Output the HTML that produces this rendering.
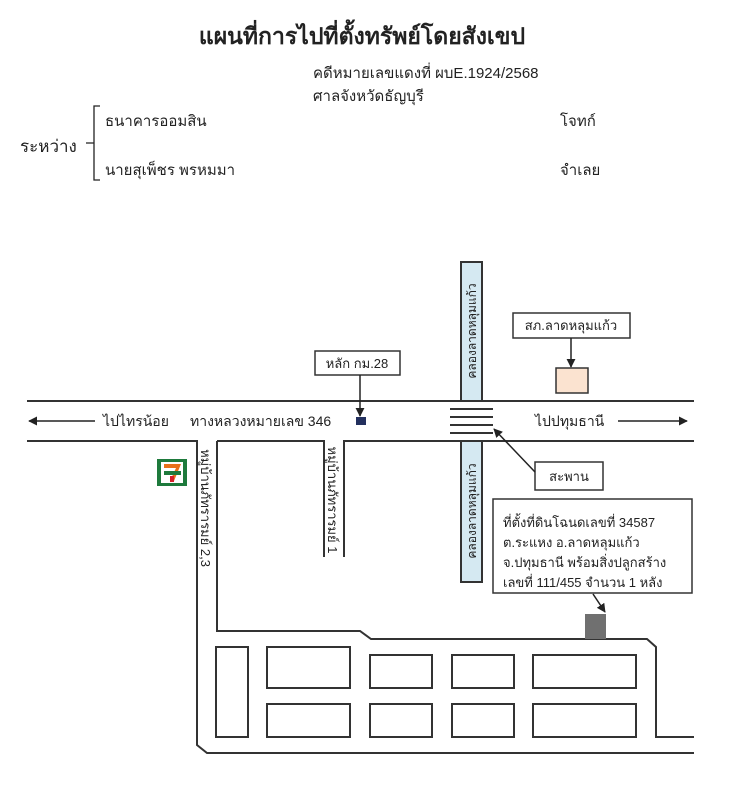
<!DOCTYPE html>
<html><head><meta charset="utf-8"><style>
body{margin:0;background:#fff}
svg{display:block}
text{font-family:"Liberation Sans","Noto Sans CJK SC","WenQuanYi Zen Hei",sans-serif;fill:#222}
</style></head><body>
<svg width="756" height="800" viewBox="0 0 756 800" xmlns="http://www.w3.org/2000/svg">
<defs><marker id="a" viewBox="0 0 10 10" refX="9" refY="5" markerWidth="6" markerHeight="6" orient="auto"><path d="M0,0L10,5L0,10z" fill="#222"/></marker></defs>
<text x="362" y="44" font-size="23" font-weight="bold" text-anchor="middle">แผนที่การไปที่ตั้งทรัพย์โดยสังเขป</text>
<text x="313" y="78" font-size="15">คดีหมายเลขแดงที่ ผบE.1924/2568</text>
<text x="313" y="101" font-size="15">ศาลจังหวัดธัญบุรี</text>
<text x="105" y="126" font-size="15">ธนาคารออมสิน</text>
<text x="560" y="126" font-size="15">โจทก์</text>
<text x="20" y="152" font-size="17">ระหว่าง</text>
<text x="105" y="175" font-size="15">นายสุเพ็ชร พรหมมา</text>
<text x="560" y="175" font-size="15">จำเลย</text>
<path d="M100,106H94V180H100M94,143H86" fill="none" stroke="#222" stroke-width="1.3"/>
<g stroke="#333" stroke-width="2" fill="none">
<path d="M27,401H694"/>
<path d="M27,441H197V745L207,753H694"/>
<path d="M217,441H324V557"/>
<path d="M344,557V441H460"/>
<path d="M482,441H694"/>
<path d="M217,441V631H360L371,639H647L656,647V737H694"/>
<rect x="216" y="647" width="32" height="90"/>
<rect x="267" y="647" width="83" height="41"/>
<rect x="267" y="704" width="83" height="33"/>
<rect x="370" y="655" width="62" height="33"/>
<rect x="370" y="704" width="62" height="33"/>
<rect x="452" y="655" width="62" height="33"/>
<rect x="452" y="704" width="62" height="33"/>
<rect x="533" y="655" width="103" height="33"/>
<rect x="533" y="704" width="103" height="33"/>
</g>
<rect x="461" y="262" width="21" height="139" fill="#d5e9f2" stroke="#333" stroke-width="2"/>
<rect x="461" y="441" width="21" height="141" fill="#d5e9f2" stroke="#333" stroke-width="2"/>
<text transform="translate(476,331) rotate(-90)" font-size="12" text-anchor="middle">คลองลาดหลุมแก้ว</text>
<text transform="translate(476,511) rotate(-90)" font-size="12" text-anchor="middle">คลองลาดหลุมแก้ว</text>
<g stroke="#333" stroke-width="2"><path d="M450,409H493M450,417H493M450,425H493M450,433H493"/></g>
<rect x="585" y="614" width="21" height="25" fill="#707070"/>
<rect x="493" y="499" width="199" height="94" fill="#fff" stroke="#333" stroke-width="1.5"/>
<text x="503" y="527" font-size="13">ที่ตั้งที่ดินโฉนดเลขที่ 34587</text>
<text x="503" y="547" font-size="13">ต.ระแหง อ.ลาดหลุมแก้ว</text>
<text x="503" y="567" font-size="13">จ.ปทุมธานี พร้อมสิ่งปลูกสร้าง</text>
<text x="503" y="587" font-size="13">เลขที่ 111/455 จำนวน 1 หลัง</text>
<line x1="593" y1="594" x2="605" y2="612" stroke="#222" stroke-width="1.5" marker-end="url(#a)"/>
<rect x="535" y="462" width="68" height="28" fill="#fff" stroke="#333" stroke-width="1.5"/>
<text x="569" y="481" font-size="13" text-anchor="middle">สะพาน</text>
<line x1="535" y1="472" x2="494" y2="429" stroke="#222" stroke-width="1.5" marker-end="url(#a)"/>
<rect x="513" y="313" width="117" height="25" fill="#fff" stroke="#333" stroke-width="1.5"/>
<text x="571" y="330" font-size="13" text-anchor="middle">สภ.ลาดหลุมแก้ว</text>
<line x1="571" y1="338" x2="571" y2="367" stroke="#222" stroke-width="1.5" marker-end="url(#a)"/>
<rect x="556" y="368" width="32" height="25" fill="#fbe3d0" stroke="#333" stroke-width="1.5"/>
<rect x="315" y="351" width="85" height="24" fill="#fff" stroke="#333" stroke-width="1.5"/>
<text x="357" y="368" font-size="13" text-anchor="middle">หลัก กม.28</text>
<line x1="360" y1="375" x2="360" y2="416" stroke="#222" stroke-width="1.5" marker-end="url(#a)"/>
<rect x="356" y="417" width="10" height="8" fill="#23305e"/>
<line x1="95" y1="421" x2="29" y2="421" stroke="#222" stroke-width="1.5" marker-end="url(#a)"/>
<text x="103" y="426" font-size="14">ไปไทรน้อย</text>
<text x="190" y="426" font-size="14">ทางหลวงหมายเลข 346</text>
<text x="535" y="426" font-size="14">ไปปทุมธานี</text>
<line x1="618" y1="421" x2="687" y2="421" stroke="#222" stroke-width="1.5" marker-end="url(#a)"/>
<rect x="157" y="459" width="30" height="27" fill="#1e7a3c"/>
<rect x="161" y="462" width="22" height="21" fill="#fff"/>
<path d="M164,464H181L174,481H170L176,468H164z" fill="#e8701a"/>
<rect x="164" y="471" width="17" height="4" fill="#1e7a3c"/>
<rect x="170" y="476" width="4" height="6" fill="#d6202a"/>
<text transform="translate(201,508) rotate(90)" font-size="13" text-anchor="middle">หมู่บ้านภัทรารมย์ 2,3</text>
<text transform="translate(328,500) rotate(90)" font-size="13" text-anchor="middle">หมู่บ้านภัทรารมย์ 1</text>
</svg>
</body></html>
